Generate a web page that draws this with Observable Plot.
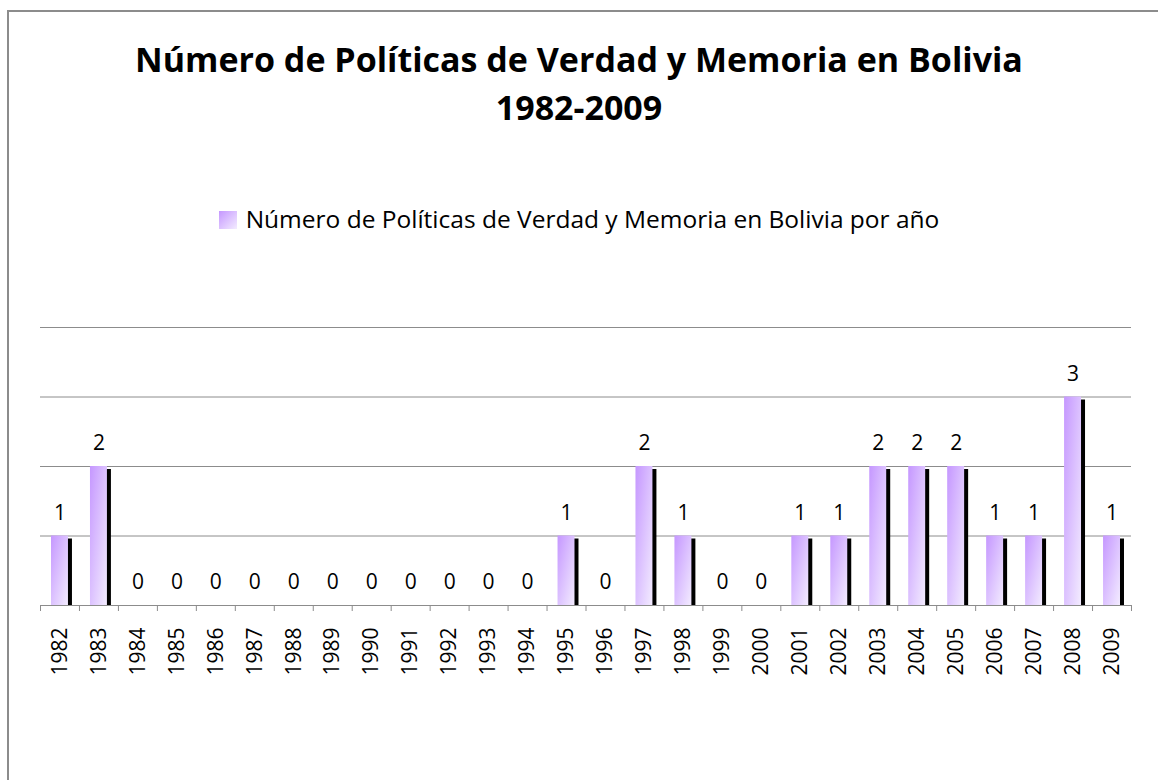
<!DOCTYPE html>
<html>
<head>
<meta charset="utf-8">
<script src="https://cdn.jsdelivr.net/npm/d3@7"></script>
<script src="https://cdn.jsdelivr.net/npm/@observablehq/plot@0.6"></script>
<style>
  html, body { margin: 0; padding: 0; background: #fff; }
  #wrap { position: relative; width: 1158px; height: 780px; overflow: hidden; font-family: "Open Sans", sans-serif; }
  #frame { position: absolute; left: 7px; top: 10px; width: 1200px; height: 800px; border-left: 2px solid #8c8c8c; border-top: 2px solid #8c8c8c; }
  #title { position: absolute; left: 0; width: 1158px; top: 35px; text-align: center; font-weight: 700; font-size: 34px; line-height: 48px; color: #000; }
  #legend { position: absolute; left: 0; width: 1158px; top: 204px; text-align: center; font-size: 24.5px; line-height: 30px; color: #000; }
  #legend .sw { display: inline-block; width: 18px; height: 18px; margin-right: 9px; vertical-align: -1px; background: linear-gradient(135deg, #c597ff, #f3ecff); }
  #chart { position: absolute; left: 0; top: 0; }
</style>
</head>
<body>
<div id="wrap">
  <div id="frame"></div>
  <div id="title">Número de Políticas de Verdad y Memoria en Bolivia<br>1982-2009</div>
  <div id="legend"><span class="sw"></span>Número de Políticas de Verdad y Memoria en Bolivia por año</div>
  <div id="chart"></div>
</div>
<script>
const years = ["1982","1983","1984","1985","1986","1987","1988","1989","1990","1991","1992","1993","1994","1995","1996","1997","1998","1999","2000","2001","2002","2003","2004","2005","2006","2007","2008","2009"];
const counts = [1,2,0,0,0,0,0,0,0,0,0,0,0,1,0,2,1,0,0,1,1,2,2,2,1,1,3,1];
const gridValues = [1,2,3,4];

const data = years.map((y, i) => ({year: y, value: counts[i]}));

const W = 1158, H = 780;
const mL = 40, mR = 27, mT = 327, mB = 175;
const step = (W - mL - mR) / years.length;
const pxPerUnit = (H - mT - mB) / 4;
const tickLen = 6 / pxPerUnit;
const pad = 0.565;

const chart = Plot.plot({
  width: W,
  height: H,
  marginLeft: mL,
  marginRight: mR,
  marginTop: mT,
  marginBottom: mB,
  style: {background: "transparent", fontFamily: "Open Sans, sans-serif"},
  x: {type: "band", domain: years, paddingInner: pad, paddingOuter: pad / 2, round: false, axis: null},
  y: {domain: [0, 4], axis: null},
  marks: [
    Plot.ruleY(gridValues, {y: d => d, stroke: "#8c8c8c", strokeWidth: 1}),
    Plot.barY(data, {x: "year", y: "value", fill: "#000", dx: 4, insetTop: 3}),
    Plot.barY(data, {x: "year", y: "value", fill: "url(#barGrad)"}),
    Plot.ruleY([0], {stroke: "#8c8c8c", strokeWidth: 1}),
    Plot.ruleX(years, {x: d => d, dx: -step / 2, y1: 0, y2: -tickLen, stroke: "#8c8c8c"}),
    Plot.ruleX([years[years.length - 1]], {x: d => d, dx: step / 2, y1: 0, y2: -tickLen, stroke: "#8c8c8c"}),
    Plot.text(data, {x: "year", y: "value", text: d => String(d.value), dy: -23, fontSize: 21, fill: "#000"}),
    Plot.text(years, {x: d => d, y: 0, text: d => d, rotate: -90, textAnchor: "end", dy: 22, fontSize: 21, fill: "#000"})
  ]
});

const ns = "http://www.w3.org/2000/svg";
const defs = document.createElementNS(ns, "defs");
defs.innerHTML = '<linearGradient id="barGrad" x1="0" y1="0" x2="1" y2="1"><stop offset="0" stop-color="#c597ff"/><stop offset="1" stop-color="#f3ecff"/></linearGradient>';
chart.insertBefore(defs, chart.firstChild);
document.getElementById("chart").appendChild(chart);
</script>
</body>
</html>
